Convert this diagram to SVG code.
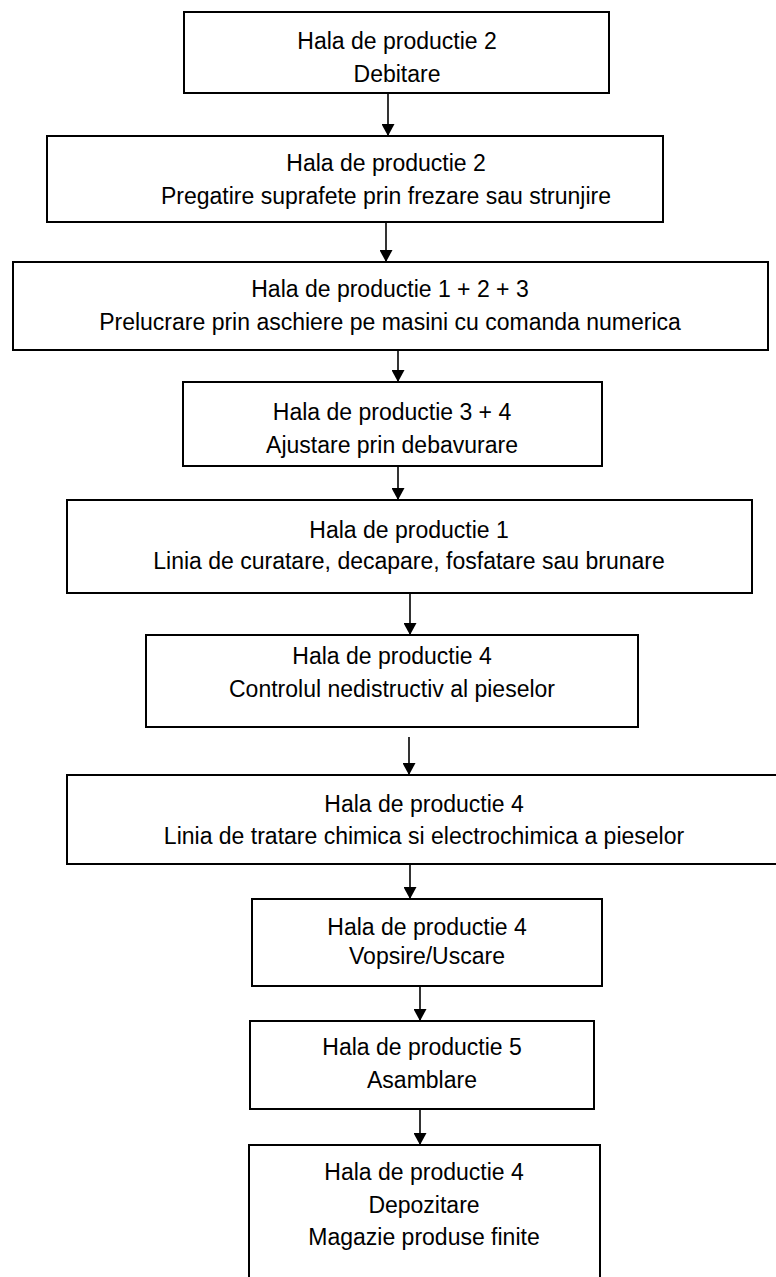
<svg xmlns="http://www.w3.org/2000/svg" width="776" height="1277" viewBox="0 0 776 1277">
<style>
.box{fill:#fff;stroke:#000;stroke-width:2}
.t{font-family:"Liberation Sans",Arial,sans-serif;font-size:23px;fill:#000;text-anchor:middle}
.c{stroke:#000;stroke-width:1.6;fill:none}
</style>
<defs>
<marker id="ah" markerWidth="12" markerHeight="13" refX="12" refY="6.5" orient="auto" markerUnits="userSpaceOnUse">
<path d="M0,0 L12,6.5 L0,13 Z" fill="#000"/>
</marker>
</defs>
<rect width="776" height="1277" fill="#fff"/>
<g id="n1"><rect class="box" x="184" y="12" width="425" height="81"/>
<text class="t" x="397" y="49">Hala de productie 2</text><text class="t" x="397" y="82">Debitare</text></g>
<g id="n2"><rect class="box" x="47" y="136" width="616" height="86"/>
<text class="t" x="386" y="171">Hala de productie 2</text><text class="t" x="386" y="204">Pregatire suprafete prin frezare sau strunjire</text></g>
<g id="n3"><rect class="box" x="13" y="262" width="755" height="88"/>
<text class="t" x="390" y="297">Hala de productie 1 + 2 + 3</text><text class="t" x="390" y="330">Prelucrare prin aschiere pe masini cu comanda numerica</text></g>
<g id="n4"><rect class="box" x="183" y="382" width="419" height="84"/>
<text class="t" x="392" y="420">Hala de productie 3 + 4</text><text class="t" x="392" y="453">Ajustare prin debavurare</text></g>
<g id="n5"><rect class="box" x="67" y="500" width="685" height="93"/>
<text class="t" x="409" y="538">Hala de productie 1</text><text class="t" x="409" y="569">Linia de curatare, decapare, fosfatare sau brunare</text></g>
<g id="n6"><rect class="box" x="146" y="635" width="492" height="92"/>
<text class="t" x="392" y="664">Hala de productie 4</text><text class="t" x="392" y="697">Controlul nedistructiv al pieselor</text></g>
<g id="n7"><rect class="box" x="67" y="775" width="714" height="89"/>
<text class="t" x="424" y="812">Hala de productie 4</text><text class="t" x="424" y="844">Linia de tratare chimica si electrochimica a pieselor</text></g>
<g id="n8"><rect class="box" x="252" y="899" width="350" height="87"/>
<text class="t" x="427" y="935">Hala de productie 4</text><text class="t" x="427" y="964">Vopsire/Uscare</text></g>
<g id="n9"><rect class="box" x="250" y="1021" width="344" height="88"/>
<text class="t" x="422" y="1055">Hala de productie 5</text><text class="t" x="422" y="1088">Asamblare</text></g>
<g id="n10"><rect class="box" x="249" y="1145" width="351" height="140"/>
<text class="t" x="424" y="1180">Hala de productie 4</text><text class="t" x="424" y="1213">Depozitare</text><text class="t" x="424" y="1245">Magazie produse finite</text></g>
<g id="connectors">
<line class="c" x1="388" y1="93" x2="388" y2="136" marker-end="url(#ah)"/>
<line class="c" x1="386" y1="222" x2="386" y2="262" marker-end="url(#ah)"/>
<line class="c" x1="398" y1="350" x2="398" y2="382" marker-end="url(#ah)"/>
<line class="c" x1="398" y1="466" x2="398" y2="500" marker-end="url(#ah)"/>
<line class="c" x1="410" y1="593" x2="410" y2="635" marker-end="url(#ah)"/>
<line class="c" x1="409" y1="737" x2="409" y2="775" marker-end="url(#ah)"/>
<line class="c" x1="410" y1="864" x2="410" y2="899" marker-end="url(#ah)"/>
<line class="c" x1="420" y1="986" x2="420" y2="1021" marker-end="url(#ah)"/>
<line class="c" x1="420" y1="1109" x2="420" y2="1145" marker-end="url(#ah)"/>
</g>
</svg>
